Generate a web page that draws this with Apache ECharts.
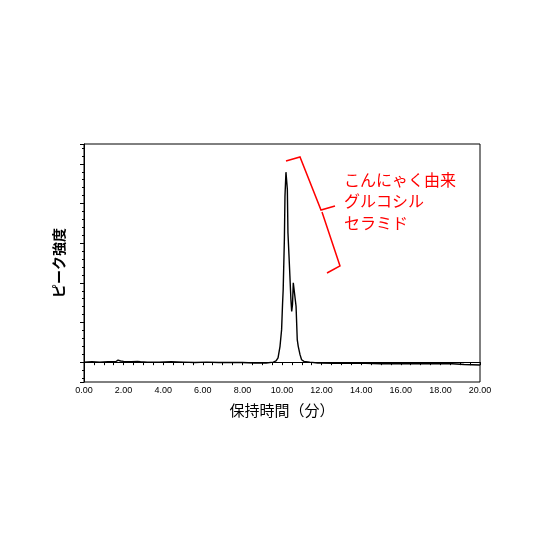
<!DOCTYPE html>
<html>
<head>
<meta charset="utf-8">
<script src="https://cdn.jsdelivr.net/npm/echarts@6/dist/echarts.min.js"></script>
<style>html,body{margin:0;padding:0;background:#fff}#c{width:560px;height:560px}</style>
</head>
<body>
<div id="c"></div>
<script>
// Retention time (min)
const times = [0.00,0.40,0.80,1.20,1.60,1.72,1.78,1.85,2.00,2.40,2.70,2.78,2.85,3.20,3.80,4.40,5.00,5.60,6.20,6.80,7.40,8.00,8.60,9.20,9.56,9.70,9.80,9.90,9.98,10.03,10.06,10.12,10.15,10.20,10.23,10.27,10.30,10.35,10.40,10.45,10.49,10.53,10.57,10.61,10.66,10.71,10.77,10.82,10.91,10.99,11.11,11.40,11.80,11.85,11.95,12.60,13.40,14.20,15.00,15.80,16.60,17.40,18.20,18.60,18.70,19.20,20.00];
// Peak intensity (relative)
const intensity = [0.00,0.01,0.00,0.01,0.01,0.05,0.08,0.03,0.02,0.01,0.02,0.04,0.01,0.00,0.00,0.01,0.00,-0.01,0.00,-0.01,-0.01,-0.01,-0.02,-0.02,0.00,0.03,0.11,0.40,0.82,1.50,1.83,3.09,4.18,4.79,4.81,4.36,3.27,2.72,2.16,1.58,1.28,1.45,2.00,2.04,1.96,1.41,0.57,0.40,0.19,0.06,0.02,0.00,-0.02,0.01,-0.02,-0.03,-0.03,-0.03,-0.04,-0.04,-0.04,-0.04,-0.04,-0.04,-0.06,-0.06,-0.07];
const xTicks = ['0.00','2.00','4.00','6.00','8.00','10.00','12.00','14.00','16.00','18.00','20.00'];
const annotation = 'こんにゃく由来\nグルコシル\nセラミド';

const chart = echarts.init(document.getElementById('c'));
chart.setOption({
  animation: false,
  backgroundColor: '#fff',
  grid: {left: 84, right: 80, top: 144, bottom: 178, show: true, borderColor: '#000', borderWidth: 1},
  xAxis: {
    type: 'value', min: 0, max: 20, interval: 2,
    axisLine: {show: true, lineStyle: {color: '#000', width: 1}},
    axisTick: {show: true, length: 3, lineStyle: {color: '#000'}},
    minorTick: {show: true, splitNumber: 4, length: 3, lineStyle: {color: '#000'}},
    splitLine: {show: false},
    axisLabel: {color: '#000', fontSize: 9, margin: 4, fontFamily: 'Liberation Sans',
      formatter: v => xTicks[Math.round(v / 2)]},
    name: '保持時間（分）', nameLocation: 'middle', nameGap: 21,
    nameTextStyle: {color: '#000', fontSize: 15, fontFamily: 'Noto Sans CJK JP'}
  },
  yAxis: {
    type: 'value', min: -0.5, max: 5.5, splitNumber: 6,
    axisLine: {show: true, lineStyle: {color: '#000', width: 1}},
    axisTick: {show: true, length: 4, lineStyle: {color: '#000'}},
    minorTick: {show: true, splitNumber: 5, length: 2, lineStyle: {color: '#000'}},
    splitLine: {show: false},
    axisLabel: {show: false},
    name: 'ピーク強度', nameLocation: 'middle', nameGap: 18, nameRotate: 90,
    nameTextStyle: {color: '#000', fontSize: 14, fontWeight: 'bold', fontFamily: 'Noto Sans CJK JP'}
  },
  series: [{
    type: 'line', showSymbol: false, symbol: 'none',
    lineStyle: {color: '#000', width: 1.4},
    data: times.map((t, i) => [t, intensity[i]])
  }],
  graphic: [
    {type: 'polyline', shape: {points: [[286,161],[300,157],[321,210],[335,206]]},
      style: {stroke: '#f00', lineWidth: 1.5, fill: null}},
    {type: 'polyline', shape: {points: [[322,212],[340,266],[327,273]]},
      style: {stroke: '#f00', lineWidth: 1.5, fill: null}},
    {type: 'text', left: 344, top: 169,
      style: {text: annotation, fill: '#f00', fontSize: 16, lineHeight: 21.5, fontFamily: 'Noto Sans CJK JP'}}
  ]
});
</script>
</body>
</html>
